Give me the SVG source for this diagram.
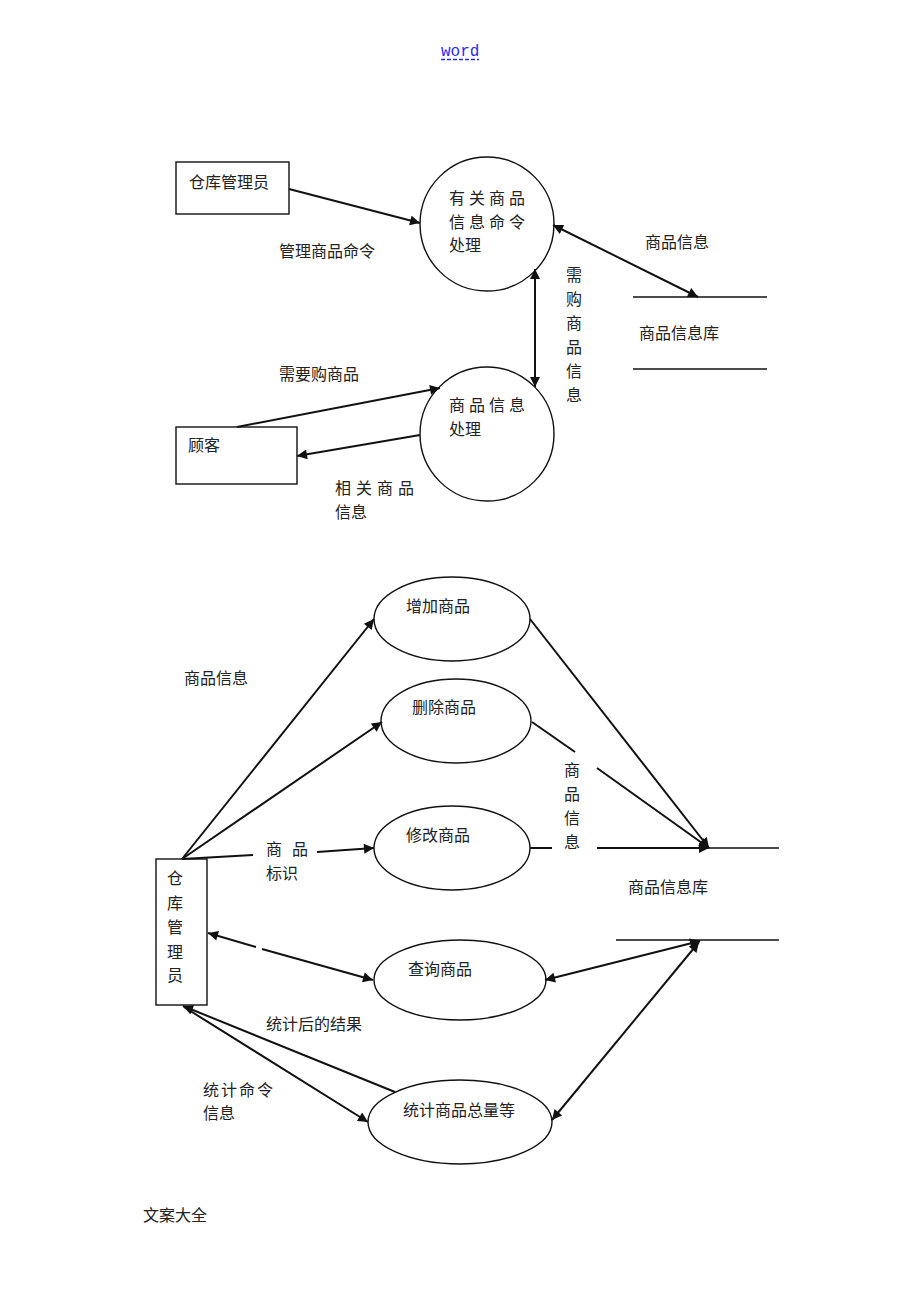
<svg xmlns="http://www.w3.org/2000/svg" width="920" height="1302" viewBox="0 0 920 1302">
<style>
.t{font-family:"Noto Sans CJK SC","Noto Sans",sans-serif;font-size:16px;fill:#222}
.s{fill:#fff;stroke:#111;stroke-width:1.4}
.c{fill:none;stroke:#111;stroke-width:2}
.st{fill:none;stroke:#111;stroke-width:1.4}
</style>
<defs>
<marker id="ah" viewBox="0 0 10 10" refX="10" refY="5" markerWidth="12" markerHeight="10" markerUnits="userSpaceOnUse" orient="auto-start-reverse">
<path d="M0,0 L10,5 L0,10 z" fill="#111"/>
</marker>
</defs>
<rect width="920" height="1302" fill="#fff"/>
<g id="header">
<text x="441" y="56" font-family="Liberation Mono, monospace" font-size="16" fill="#2a2af0">word</text>
<line x1="441" y1="59.5" x2="479" y2="59.5" stroke="#2a2af0" stroke-width="1.3" stroke-dasharray="4,2"/>
</g>
<!-- top diagram -->
<g id="n-keeper1"><rect class="s" x="176" y="162" width="113" height="52"/><text class="t" x="189" y="188">仓库管理员</text></g>
<g id="n-cmdproc"><circle class="s" cx="487" cy="224" r="67"/>
<text class="t" x="449" y="204" letter-spacing="4">有关商品</text>
<text class="t" x="449" y="228" letter-spacing="4">信息命令</text>
<text class="t" x="449" y="251">处理</text></g>
<g id="n-store1"><line class="st" x1="633" y1="297" x2="767" y2="297"/><line class="st" x1="633" y1="369" x2="767" y2="369"/><text class="t" x="639" y="339">商品信息库</text></g>
<g id="n-infoproc"><circle class="s" cx="487" cy="434" r="67"/>
<text class="t" x="449" y="411" letter-spacing="4">商品信息</text>
<text class="t" x="449" y="435">处理</text></g>
<g id="n-customer"><rect class="s" x="176" y="427" width="121" height="57"/><text class="t" x="188" y="451">顾客</text></g>
<!-- bottom diagram -->
<g id="n-add"><ellipse class="s" cx="452" cy="619" rx="78" ry="42"/><text class="t" x="406" y="612">增加商品</text></g>
<g id="n-del"><ellipse class="s" cx="456" cy="721" rx="75" ry="42"/><text class="t" x="412" y="713">删除商品</text></g>
<g id="n-mod"><ellipse class="s" cx="452" cy="848" rx="78" ry="42"/><text class="t" x="406" y="841">修改商品</text></g>
<g id="n-query"><ellipse class="s" cx="460" cy="980" rx="86" ry="40"/><text class="t" x="408" y="975">查询商品</text></g>
<g id="n-stat"><ellipse class="s" cx="460" cy="1122" rx="92" ry="42"/><text class="t" x="403" y="1116">统计商品总量等</text></g>
<g id="n-keeper2"><rect class="s" x="156" y="859" width="51" height="146"/>
<text class="t" x="167"><tspan x="167" y="884">仓</tspan><tspan x="167" y="909">库</tspan><tspan x="167" y="933">管</tspan><tspan x="167" y="958">理</tspan><tspan x="167" y="981">员</tspan></text></g>
<g id="n-store2"><line class="st" x1="608" y1="848" x2="779" y2="848"/><line class="st" x1="616" y1="940" x2="779" y2="940"/><text class="t" x="628" y="893">商品信息库</text></g>
<g id="connectors">
<line class="c" x1="289" y1="189" x2="420" y2="223" marker-end="url(#ah)"/>
<line class="c" x1="553" y1="225" x2="698" y2="297" marker-start="url(#ah)" marker-end="url(#ah)"/>
<line class="c" x1="535" y1="269" x2="535" y2="387" marker-start="url(#ah)" marker-end="url(#ah)"/>
<line class="c" x1="237" y1="427" x2="440" y2="388" marker-end="url(#ah)"/>
<line class="c" x1="420" y1="435" x2="297" y2="456" marker-end="url(#ah)"/>
<line class="c" x1="182" y1="859" x2="374" y2="619" marker-end="url(#ah)"/>
<line class="c" x1="182" y1="859" x2="382" y2="722" marker-end="url(#ah)"/>
<line class="c" x1="182" y1="859" x2="253" y2="855"/>
<line class="c" x1="317" y1="852" x2="374" y2="848" marker-end="url(#ah)"/>
<line class="c" x1="530" y1="619" x2="709" y2="848" marker-end="url(#ah)"/>
<line class="c" x1="532" y1="722" x2="575" y2="752"/>
<line class="c" x1="597" y1="768" x2="709" y2="848" marker-end="url(#ah)"/>
<line class="c" x1="530" y1="848" x2="552" y2="848"/>
<line class="c" x1="597" y1="848" x2="709" y2="848" marker-end="url(#ah)" stroke-width="2.6"/>
<line class="c" x1="545" y1="980" x2="700" y2="941" marker-start="url(#ah)" marker-end="url(#ah)"/>
<line class="c" x1="552" y1="1120" x2="699" y2="942" marker-start="url(#ah)" marker-end="url(#ah)"/>
<line class="c" x1="208" y1="933" x2="256" y2="947" marker-start="url(#ah)"/>
<line class="c" x1="262" y1="949" x2="373" y2="980" marker-end="url(#ah)"/>
<line class="c" x1="395" y1="1092" x2="183" y2="1006" marker-end="url(#ah)"/>
<line class="c" x1="184" y1="1007" x2="368" y2="1122" marker-end="url(#ah)"/>
</g>
<g id="labels">
<text class="t" x="279" y="257">管理商品命令</text>
<text class="t" x="645" y="248">商品信息</text>
<text class="t"><tspan x="566" y="281">需</tspan><tspan x="566" y="305">购</tspan><tspan x="566" y="329">商</tspan><tspan x="566" y="353">品</tspan><tspan x="566" y="377">信</tspan><tspan x="566" y="401">息</tspan></text>
<text class="t" x="279" y="380">需要购商品</text>
<text class="t" x="335" y="494" letter-spacing="5">相关商品</text>
<text class="t" x="335" y="518">信息</text>
<text class="t" x="184" y="684">商品信息</text>
<text class="t"><tspan x="564" y="776">商</tspan><tspan x="564" y="800">品</tspan><tspan x="564" y="824">信</tspan><tspan x="564" y="848">息</tspan></text>
<text class="t" x="266" y="855" letter-spacing="10">商品</text>
<text class="t" x="266" y="879">标识</text>
<text class="t" x="266" y="1030">统计后的结果</text>
<text class="t" x="203" y="1096" letter-spacing="2">统计命令</text>
<text class="t" x="203" y="1119">信息</text>
</g>
<g id="footer"><text class="t" x="143" y="1221">文案大全</text></g>
</svg>
